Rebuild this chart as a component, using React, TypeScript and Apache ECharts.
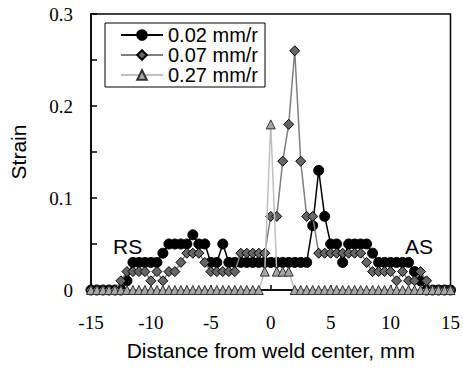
import React, { useEffect, useRef } from "react";
import * as echarts from "echarts";

const distances = [
  -15, -14.5, -14, -13.5, -13, -12.5, -12, -11.5, -11, -10.5,
  -10, -9.5, -9, -8.5, -8, -7.5, -7, -6.5, -6, -5.5,
  -5, -4.5, -4, -3.5, -3, -2.5, -2, -1.5, -1, -0.5,
  0, 0.5, 1, 1.5, 2, 2.5, 3, 3.5, 4, 4.5,
  5, 5.5, 6, 6.5, 7, 7.5, 8, 8.5, 9, 9.5,
  10, 10.5, 11, 11.5, 12, 12.5, 13, 13.5, 14, 14.5,
  15,
];

const strain002 = [
  0, 0, 0, 0, 0, 0, 0.01, 0.03, 0.03, 0.03,
  0.03, 0.03, 0.04, 0.05, 0.05, 0.05, 0.05, 0.06, 0.05, 0.05,
  0.03, 0.03, 0.05, 0.03, 0.03, 0.03, 0.03, 0.03, 0.03, 0.03,
  0.03, 0.03, 0.03, 0.03, 0.03, 0.03, 0.03, 0.07, 0.13, 0.08,
  0.05, 0.05, 0.03, 0.05, 0.05, 0.05, 0.05, 0.04, 0.03, 0.03,
  0.03, 0.03, 0.03, 0.03, 0.02, 0.01, 0, 0, 0, 0,
  0,
];

const strain007 = [
  0, 0, 0, 0, 0, 0.01, 0.02, 0.02, 0.02, 0.02,
  0.01, 0.02, 0.01, 0.02, 0.02, 0.03, 0.04, 0.04, 0.04, 0.03,
  0.02, 0.02, 0.02, 0.02, 0.02, 0.04, 0.04, 0.04, 0.04, 0.04,
  0.08, 0.08, 0.14, 0.18, 0.26, 0.14, 0.08, 0.08, 0.04, 0.04,
  0.04, 0.04, 0.04, 0.04, 0.04, 0.04, 0.03, 0.02, 0.02, 0.02,
  0.02, 0.01, 0.02, 0.01, 0.01, 0.02, 0.01, 0, 0, 0,
  0,
];

const strain027 = [
  0, 0, 0, 0, 0, 0, 0, 0, 0, 0,
  0, 0, 0, 0, 0, 0, 0, 0, 0, 0,
  0, 0, 0, 0, 0, 0, 0, 0, 0, 0.02,
  0.18, 0.02, 0.02, 0.02, 0, 0, 0, 0, 0, 0,
  0, 0, 0, 0, 0, 0, 0, 0, 0, 0,
  0, 0, 0, 0, 0, 0, 0, 0, 0, 0,
  0,
];

const seriesNames = ["0.02 mm/r", "0.07 mm/r", "0.27 mm/r"];
const xAxisName = "Distance from weld center, mm";
const yAxisName = "Strain";
const sideLabels = ["RS", "AS"];

const serif = "'Liberation Serif', 'Times New Roman', serif";
const sans = "'Liberation Sans', Arial, sans-serif";

function pairs(ys: number[]) {
  return distances.map((x, i) => [x, ys[i]]);
}

export default function App() {
  const ref = useRef<HTMLDivElement>(null);

  useEffect(() => {
    if (!ref.current) return;
    const chart = echarts.init(ref.current, null, { renderer: "svg" });
    chart.setOption({
      animation: false,
      backgroundColor: "#ffffff",
      grid: {
        left: 91,
        right: 9,
        top: 14,
        bottom: 88,
        show: true,
        borderColor: "#000",
        borderWidth: 1.5,
        backgroundColor: "transparent",
      },
      legend: {
        orient: "vertical",
        left: 105,
        top: 23,
        padding: [2, 7, 2, 15],
        itemGap: 0,
        itemWidth: 42,
        itemHeight: 12,
        borderColor: "#000",
        borderWidth: 1,
        backgroundColor: "#fff",
        data: seriesNames,
        textStyle: { fontFamily: sans, fontSize: 20, color: "#000", lineHeight: 20 },
      },
      xAxis: {
        type: "value",
        min: -15,
        max: 15,
        interval: 5,
        name: xAxisName,
        nameLocation: "middle",
        nameGap: 50,
        nameTextStyle: { fontFamily: sans, fontSize: 21, color: "#000" },
        axisLine: { show: true, onZero: false, lineStyle: { color: "#000", width: 1.5 } },
        axisTick: { show: true, inside: true, length: 5, lineStyle: { color: "#000", width: 1.5 } },
        axisLabel: { fontFamily: serif, fontSize: 19, color: "#000", margin: 23 },
        splitLine: { show: false },
      },
      yAxis: {
        type: "value",
        min: 0,
        max: 0.3,
        interval: 0.1,
        name: yAxisName,
        nameLocation: "middle",
        nameGap: 62,
        nameTextStyle: { fontFamily: sans, fontSize: 21, color: "#000" },
        axisLine: { show: true, onZero: false, lineStyle: { color: "#000", width: 1.5 } },
        axisTick: { show: true, inside: true, length: 6, lineStyle: { color: "#000", width: 1.5 } },
        minorTick: { show: true, splitNumber: 2, length: 6, lineStyle: { color: "#000", width: 1.5 } },
        axisLabel: { fontFamily: serif, fontSize: 19, color: "#000", margin: 18 },
        splitLine: { show: false },
      },
      graphic: [
        {
          type: "text",
          x: 113,
          y: 246,
          style: { text: sideLabels[0], font: `21px ${sans}`, fill: "#000", verticalAlign: "middle" },
        },
        {
          type: "text",
          x: 405,
          y: 246,
          style: { text: sideLabels[1], font: `21px ${sans}`, fill: "#000", verticalAlign: "middle" },
        },
      ],
      series: [
        {
          name: seriesNames[0],
          type: "line",
          data: pairs(strain002),
          symbol: "circle",
          symbolSize: 10,
          showAllSymbol: true,
          lineStyle: { color: "#000", width: 1.5 },
          itemStyle: { color: "#000", borderColor: "#000", borderWidth: 1 },
          z: 2,
        },
        {
          name: seriesNames[1],
          type: "line",
          data: pairs(strain007),
          symbol: "diamond",
          symbolSize: 10,
          showAllSymbol: true,
          lineStyle: { color: "#7f7f7f", width: 1.5 },
          itemStyle: { color: "#666666", borderColor: "#000", borderWidth: 1 },
          z: 3,
        },
        {
          name: seriesNames[2],
          type: "line",
          data: pairs(strain027),
          symbol: "triangle",
          symbolSize: 9,
          showAllSymbol: true,
          lineStyle: { color: "#c0c0c0", width: 1.5 },
          itemStyle: { color: "#a6a6a6", borderColor: "#333", borderWidth: 1 },
          z: 4,
        },
      ],
    });
    return () => chart.dispose();
  }, []);

  return (
    <div
      ref={ref}
      style={{ position: "fixed", left: 0, top: 0, width: 463, height: 378, background: "#fff" }}
    />
  );
}
